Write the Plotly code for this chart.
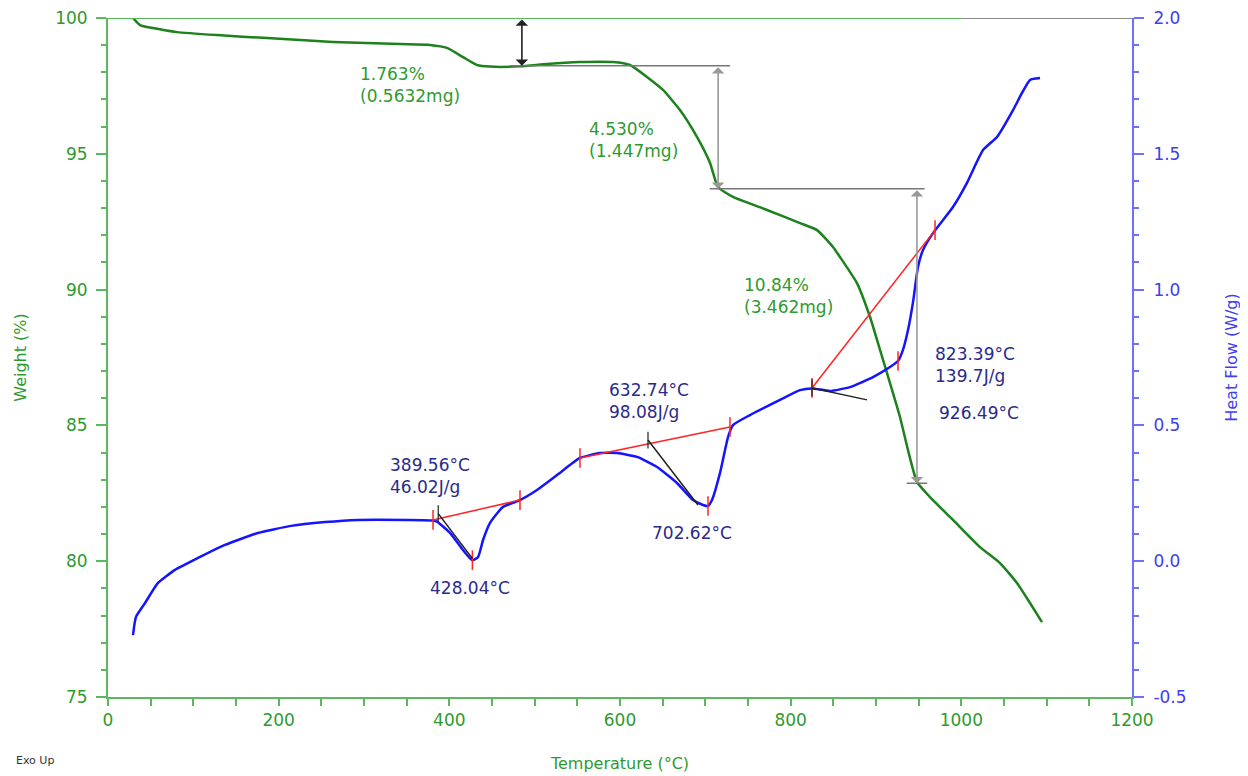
import plotly.graph_objects as go

# ---------------- data ----------------
tga_T = [29.3, 37.5, 52.7, 80.9, 127.7, 186.3, 263.7, 342.2, 377.3, 397.3, 416.0, 432.4,
         447.7, 482.8, 514.5, 553.1, 591.8, 611.7, 631.6, 650.4, 670.3, 690.2, 705.5,
         714.8, 732.4, 772.3, 810.9, 830.9, 849.6, 857.8, 877.7, 893.0, 904.7, 916.4,
         928.1, 937.5, 948.0, 963.3, 990.2, 1021.9, 1045.3, 1065.2, 1080.5, 1094.5]
tga_W = [100.00, 99.74, 99.63, 99.48, 99.37, 99.26, 99.12, 99.04, 99.01, 98.90, 98.56, 98.27,
         98.21, 98.22, 98.31, 98.38, 98.38, 98.27, 97.83, 97.35, 96.61, 95.62, 94.66,
         93.78, 93.41, 92.93, 92.45, 92.19, 91.57, 91.20, 90.24, 88.99, 87.78, 86.56,
         85.31, 84.09, 82.92, 82.36, 81.52, 80.52, 79.93, 79.20, 78.46, 77.76]

dsc_T = [29.3, 32.8, 43.4, 58.6, 78.5, 105.5, 137.1, 175.8, 214.5, 254.3, 293.0, 351.6, 380.9,
         385.5, 400.8, 416.0, 426.6, 433.6, 439.5, 447.7, 462.9, 482.8, 502.7, 526.2, 553.1,
         576.6, 596.5, 619.9, 643.4, 666.8, 685.6, 697.3, 703.1, 707.8, 717.2, 726.6, 732.4,
         752.3, 787.5, 810.9, 825.0, 846.1, 869.5, 896.5, 916.4, 925.8, 931.6, 937.5, 943.4,
         949.2, 955.1, 966.8, 990.2, 1006.6, 1025.4, 1041.8, 1060.6, 1071.1, 1080.5, 1092.2]
dsc_H = [-0.272, -0.205, -0.154, -0.080, -0.032, 0.012, 0.060, 0.104, 0.130, 0.144, 0.152, 0.152, 0.150,
         0.146, 0.104, 0.041, 0.004, 0.015, 0.078, 0.141, 0.200, 0.225, 0.262, 0.317, 0.380,
         0.398, 0.398, 0.384, 0.347, 0.288, 0.225, 0.207, 0.203, 0.225, 0.325, 0.457, 0.501,
         0.538, 0.594, 0.630, 0.636, 0.627, 0.641, 0.678, 0.715, 0.737, 0.778, 0.851, 0.954,
         1.083, 1.146, 1.208, 1.304, 1.393, 1.514, 1.562, 1.661, 1.724, 1.772, 1.779]

# DSC integration baselines (start/end) and tangent lines
base_T = [[380.9, 482.8], [553.1, 728.9], [825.0, 969.2]]
base_H = [[0.152, 0.225], [0.380, 0.494], [0.638, 1.219]]
tick_T = [380.9, 482.8, 427.0, 553.1, 728.9, 703.1, 825.0, 925.8, 969.2]
tick_H = [0.152, 0.225, 0.004, 0.380, 0.494, 0.203, 0.638, 0.737, 1.219]
tan_T = [[387.0, 427.0], [632.8, 691.4], [825.0, 889.5]]
tan_H = [[0.175, 0.010], [0.446, 0.207], [0.638, 0.594]]

# weight-loss steps
step_T = [485.0, 715.0, 948.0]
step_W = [100.0, 98.24, 93.71, 82.87]
step_pct = ["1.763%", "4.530%", "10.84%"]
step_mg = ["(0.5632mg)", "(1.447mg)", "(3.462mg)"]
step_lab_T = [293.0, 561.0, 743.0]
step_lab_W = [97.53, 95.51, 89.76]
shelf_T = [[472.0, 729.0], [705.0, 957.0], [936.0, 960.0]]

# DSC labels
dsc_lab = ["389.56°C<br>46.02J/g", "428.04°C", "632.74°C<br>98.08J/g", "702.62°C",
           "823.39°C<br>139.7J/g", "926.49°C"]
dsc_lab_T = [328.0, 375.0, 585.0, 635.0, 967.0, 971.5]
dsc_lab_H = [0.314, -0.099, 0.590, 0.104, 0.722, 0.546]

x_ticks = [0, 200, 400, 600, 800, 1000, 1200]
y_ticks = [75, 80, 85, 90, 95, 100]
y2_ticks = [-0.5, 0.0, 0.5, 1.0, 1.5, 2.0]
y2_text = ["-0.5", "0.0", "0.5", "1.0", "1.5", "2.0"]

GREEN_LINE = "#1c821c"
GREEN_AX = "#5cb85c"
GREEN_TXT = "#2e9a2e"
BLUE_LINE = "#1414ff"
BLUE_AX = "#6f6fff"
BLUE_TXT = "#4040f0"
NAVY = "#2a2a8a"
RED = "#ff2424"
FONT = "DejaVu Sans"

fig = go.Figure()

fig.add_trace(go.Scatter(x=tga_T, y=tga_W, mode="lines",
                         line=dict(color=GREEN_LINE, width=2.5, shape="spline", smoothing=0.5),
                         yaxis="y", showlegend=False))
fig.add_trace(go.Scatter(x=dsc_T, y=dsc_H, mode="lines",
                         line=dict(color=BLUE_LINE, width=2.5, shape="spline", smoothing=0.5),
                         yaxis="y2", showlegend=False))

for bt, bh in zip(base_T, base_H):
    fig.add_trace(go.Scatter(x=bt, y=bh, mode="lines", line=dict(color=RED, width=1.5),
                             yaxis="y2", showlegend=False))
fig.add_trace(go.Scatter(x=tick_T, y=tick_H, mode="markers", yaxis="y2", showlegend=False,
                         marker=dict(symbol="line-ns-open", size=14, color=RED,
                                     line=dict(color=RED, width=1.5))))
for tt, th in zip(tan_T, tan_H):
    fig.add_trace(go.Scatter(x=tt, y=th, mode="lines", line=dict(color="#222222", width=1.5),
                             yaxis="y2", showlegend=False))
fig.add_trace(go.Scatter(x=[tt[0] for tt in tan_T], y=[th[0] for th in tan_H], mode="markers",
                         yaxis="y2", showlegend=False,
                         marker=dict(symbol="line-ns-open", size=12, color="#222222",
                                     line=dict(color="#222222", width=1.2))))

# shelves (horizontal level lines)
for st, w in zip(shelf_T, step_W[1:]):
    fig.add_trace(go.Scatter(x=st, y=[w, w], mode="lines", line=dict(color="#777777", width=1.5),
                             yaxis="y", showlegend=False))

annotations = []
for i, t in enumerate(step_T):
    col = "#222222" if i == 0 else "#999999"
    annotations.append(dict(x=t, y=step_W[i + 1], ax=t, ay=step_W[i], xref="x", yref="y",
                            axref="x", ayref="y", text="", showarrow=True, arrowside="end+start",
                            arrowhead=1, arrowsize=1.3, arrowwidth=1.6, arrowcolor=col,
                            standoff=0, startstandoff=0))
    annotations.append(dict(x=step_lab_T[i], y=step_lab_W[i], xref="x", yref="y",
                            text=step_pct[i] + "<br>" + step_mg[i], showarrow=False,
                            xanchor="left", yanchor="middle", align="left",
                            font=dict(family=FONT, size=17, color=GREEN_TXT)))
for lab, t, h in zip(dsc_lab, dsc_lab_T, dsc_lab_H):
    annotations.append(dict(x=t, y=h, xref="x", yref="y2", text=lab, showarrow=False,
                            xanchor="left", yanchor="middle", align="left",
                            font=dict(family=FONT, size=17, color=NAVY)))
annotations.append(dict(x=-0.0713, y=-0.093, xref="paper", yref="paper", text="Exo Up",
                        showarrow=False, xanchor="center", yanchor="middle",
                        font=dict(family=FONT, size=11, color="#333333")))

shapes = [
    dict(type="line", xref="x", yref="y", x0=0, x1=1000, y0=100, y1=100,
         line=dict(color=GREEN_AX, width=2)),
    dict(type="line", xref="x", yref="y", x0=1000, x1=1200, y0=100, y1=100,
         line=dict(color="#888888", width=2)),
]

# page body adds an 8px offset, so the figure is 8px smaller and margins shifted
fig.update_layout(
    width=1240, height=768,
    margin=dict(l=100, r=116, t=10, b=79, autoexpand=False),
    paper_bgcolor="white", plot_bgcolor="white",
    font=dict(family=FONT),
    xaxis=dict(range=[0, 1200], tickvals=x_ticks, showgrid=False, zeroline=False, automargin=False,
               showline=True, linecolor=GREEN_AX, linewidth=2, ticklabeloverflow="allow",
               ticks="outside", ticklen=7, tickwidth=1.5, tickcolor=GREEN_AX,
               minor=dict(dtick=50, ticks="outside", ticklen=7, tickcolor=GREEN_AX, tickwidth=1.5),
               tickfont=dict(family=FONT, size=17, color=GREEN_TXT),
               title=dict(text="Temperature (°C)", font=dict(family=FONT, size=16, color=GREEN_TXT),
                          standoff=28)),
    yaxis=dict(range=[75, 100], tickvals=y_ticks, showgrid=False, zeroline=False, automargin=False,
               showline=True, linecolor=GREEN_AX, linewidth=2, ticklabelstandoff=5,
               ticklabeloverflow="allow",
               ticks="outside", ticklen=10, tickwidth=1.5, tickcolor=GREEN_AX,
               minor=dict(dtick=1, ticks="outside", ticklen=5, tickcolor=GREEN_AX, tickwidth=1.5),
               tickfont=dict(family=FONT, size=17, color=GREEN_TXT),
               title=dict(text="Weight (%)", font=dict(family=FONT, size=16, color=GREEN_TXT),
                          standoff=25)),
    yaxis2=dict(range=[-0.5, 2.0], overlaying="y", side="right", tickvals=y2_ticks,
                ticktext=y2_text, showgrid=False, zeroline=False, automargin=False,
                showline=True, linecolor=BLUE_AX, linewidth=2, ticklabelstandoff=6,
                ticklabeloverflow="allow",
                ticks="outside", ticklen=10, tickwidth=1.5, tickcolor=BLUE_AX,
                minor=dict(dtick=0.1, ticks="outside", ticklen=5, tickcolor=BLUE_AX, tickwidth=1.5),
                tickfont=dict(family=FONT, size=17, color=BLUE_TXT),
                title=dict(text="Heat Flow (W/g)", font=dict(family=FONT, size=16, color=BLUE_TXT),
                           standoff=40)),
    annotations=annotations,
    shapes=shapes,
)

fig.write_html("out.html")
